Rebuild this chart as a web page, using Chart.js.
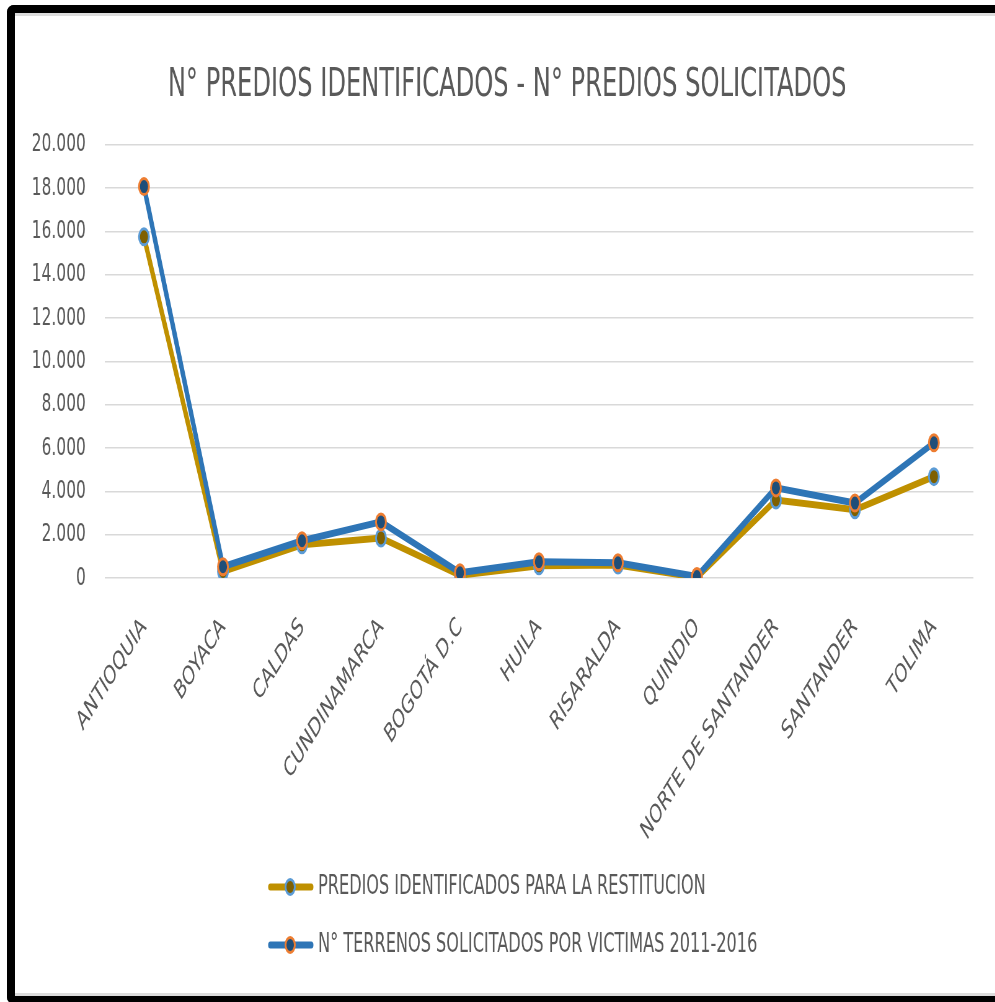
<!DOCTYPE html>
<html>
<head>
<meta charset="utf-8">
<script src="https://cdn.jsdelivr.net/npm/chart.js@4/dist/chart.umd.min.js"></script>
<style>
  body { margin: 0; background: #fff; overflow: hidden; }
  #wrap { position: absolute; left: 0; top: 0; width: 1605px; height: 1002px;
          transform: scaleX(0.62); transform-origin: 0 0; }
  #frame { position: absolute; left: 7px; top: 5px; width: 988px; height: 999px;
           box-sizing: border-box; border: 8px solid #000; border-right: none;
           border-radius: 7px 0 0 7px;
           box-shadow: inset 0 3px 0 #dcdcdc, inset 0 -3px 0 #dcdcdc; pointer-events: none; }
</style>
</head>
<body>
<div id="wrap"><canvas id="chart" width="1605" height="1002"></canvas></div>
<div id="frame"></div>
<script>
var categories = ['ANTIOQUIA', 'BOYACA', 'CALDAS', 'CUNDINAMARCA', 'BOGOTÁ D.C', 'HUILA',
  'RISARALDA', 'QUINDIO', 'NORTE DE SANTANDER', 'SANTANDER', 'TOLIMA'];
var identificados = [15750, 300, 1530, 1850, 130, 560, 600, 30, 3600, 3150, 4680];
var solicitados = [18070, 520, 1720, 2590, 240, 750, 700, 70, 4160, 3460, 6240];
var yTicks = [0, 2000, 4000, 6000, 8000, 10000, 12000, 14000, 16000, 18000, 20000];

var FONT = '"DejaVu Sans"';
var GREY = '#595959';

function fmt(v){
  return String(v).replace(/\B(?=(\d{3})+(?!\d))/g, '.');
}

// legend drawn as two stacked rows, like the original
var legendRows = {
  id: 'legendRows',
  afterLayout: function(chart){
    // let the y labels use the space left of the title padding
    var y = chart.scales.y;
    y.left = 0;
    y.width = y.right;
  },
  afterDraw: function(chart){
    var ctx = chart.ctx;
    chart.data.datasets.forEach(function(ds, i){
      var y = 887 + i * 58;
      ctx.save();
      ctx.strokeStyle = ds.borderColor;
      ctx.lineWidth = 7;
      ctx.lineCap = 'round';
      ctx.beginPath(); ctx.moveTo(436, y); ctx.lineTo(502, y); ctx.stroke();
      ctx.beginPath(); ctx.arc(468, y, 7.5, 0, 2 * Math.PI);
      ctx.fillStyle = ds.pointBackgroundColor; ctx.fill();
      ctx.lineWidth = 3; ctx.strokeStyle = ds.pointBorderColor; ctx.stroke();
      ctx.fillStyle = GREY;
      ctx.font = '26px ' + FONT;
      ctx.textBaseline = 'middle';
      ctx.fillText(ds.label, 513, y);
      ctx.restore();
    });
  }
};

var data = {
  labels: categories,
  datasets: [{
    label: 'PREDIOS IDENTIFICADOS PARA LA RESTITUCION',
    data: identificados,
    borderColor: '#BF9000',
    pointBackgroundColor: '#7F6000',
    pointBorderColor: '#5B9BD5',
    order: 2
  }, {
    label: 'N° TERRENOS SOLICITADOS POR VICTIMAS 2011-2016',
    data: solicitados,
    borderColor: '#2E75B6',
    pointBackgroundColor: '#1F4E79',
    pointBorderColor: '#ED7D31',
    order: 1
  }]
};
data.datasets.forEach(function(ds){
  ds.borderWidth = 7;
  ds.pointRadius = 8;
  ds.pointBorderWidth = 3;
  ds.tension = 0;
});

var options = {
  responsive: false,
  animation: false,
  layout: {padding: {left: 66, right: 35, top: 0, bottom: 0}},
  plugins: {
    legend: {display: false},
    tooltip: {enabled: false},
    title: {
      display: true,
      text: 'N° PREDIOS IDENTIFICADOS - N° PREDIOS SOLICITADOS',
      color: GREY,
      font: {family: FONT, size: 39, weight: 'normal', lineHeight: 1.2},
      padding: {top: 62, bottom: 36}
    }
  },
  scales: {
    x: {
      offset: true,
      grid: {display: false},
      border: {display: false},
      ticks: {autoSkip: false, minRotation: 45, maxRotation: 45, padding: 26,
        color: GREY, font: {family: FONT, size: 26}},
      afterFit: function(s){ s.height = 424; }
    },
    y: {
      min: 0, max: 20000,
      afterBuildTicks: function(s){ s.ticks = yTicks.map(function(v){ return {value: v}; }); },
      grid: {color: '#d9d9d9', lineWidth: 1.5, drawTicks: false},
      border: {display: false},
      ticks: {padding: 30, color: GREY, font: {family: FONT, size: 25},
        callback: function(v){ return fmt(v); }},
      afterFit: function(s){ s.width = 102.5; }
    }
  }
};

var ctx = document.getElementById('chart').getContext('2d');
var chart = new Chart(ctx, {type: 'line', data: data, options: options, plugins: [legendRows]});
</script>
</body>
</html>
